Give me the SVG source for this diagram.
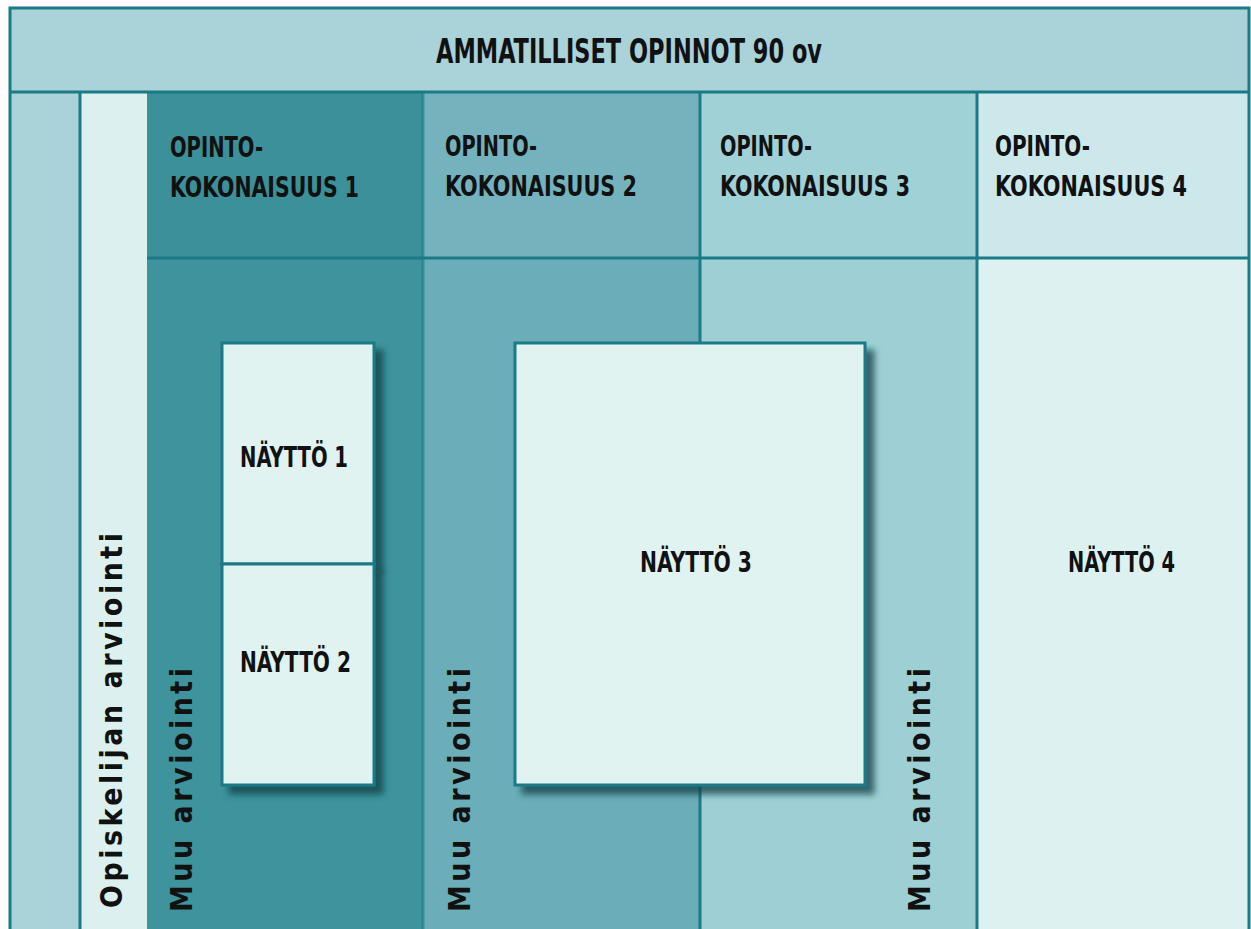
<svg xmlns="http://www.w3.org/2000/svg" width="1251" height="929" viewBox="0 0 1251 929">
<style>
.lbl{font-family:"Liberation Sans Narrow","DejaVu Sans Condensed","Liberation Sans",sans-serif;font-weight:bold;fill:#111;}
.hdr{font-size:34px;}
.col{font-size:28px;}
.vt{font-size:30px;}
.ln{stroke:#1a7a86;stroke-width:3;fill:none;}
.box{fill:#e0f3f1;stroke:#1a7a86;stroke-width:3;}
</style>
<defs>
<filter id="sh" x="-10%" y="-10%" width="130%" height="130%">
<feDropShadow dx="8" dy="8" stdDeviation="3" flood-color="#0d3f47" flood-opacity="0.75"/>
</filter>
</defs>
<rect x="0" y="0" width="1251" height="929" fill="#ffffff"/>
<g id="header">
<rect x="10" y="8" width="1239" height="84" fill="#a9d2d9"/>
<text class="lbl hdr" x="436" y="63" textLength="386" lengthAdjust="spacingAndGlyphs">AMMATILLISET OPINNOT 90 ov</text>
</g>
<g id="left-strip">
<rect x="10" y="92" width="70" height="837" fill="#a9d2d9"/>
</g>
<g id="opiskelijan">
<rect x="80" y="92" width="67" height="837" fill="#dbf0ef"/>
<text class="lbl vt" transform="translate(122,908) rotate(-90)" textLength="375" lengthAdjust="spacing">Opiskelijan arviointi</text>
</g>
<g id="col1">
<rect x="147" y="92" width="276" height="166" fill="#3b909a"/>
<rect x="147" y="258" width="276" height="671" fill="#3e939c"/>
<text class="lbl col" x="170" y="157" textLength="93" lengthAdjust="spacingAndGlyphs">OPINTO-</text>
<text class="lbl col" x="170" y="197" textLength="189" lengthAdjust="spacingAndGlyphs">KOKONAISUUS 1</text>
<text class="lbl vt" transform="translate(192,912) rotate(-90)" textLength="244" lengthAdjust="spacing">Muu arviointi</text>
</g>
<g id="col2">
<rect x="423" y="92" width="277" height="166" fill="#74b3be"/>
<rect x="423" y="258" width="277" height="671" fill="#6badb8"/>
<text class="lbl col" x="445" y="156" textLength="92" lengthAdjust="spacingAndGlyphs">OPINTO-</text>
<text class="lbl col" x="445" y="196" textLength="192" lengthAdjust="spacingAndGlyphs">KOKONAISUUS 2</text>
<text class="lbl vt" transform="translate(470,912) rotate(-90)" textLength="244" lengthAdjust="spacing">Muu arviointi</text>
</g>
<g id="col3">
<rect x="700" y="92" width="277" height="166" fill="#a0d1d7"/>
<rect x="700" y="258" width="277" height="671" fill="#9dcfd5"/>
<text class="lbl col" x="720" y="156" textLength="92" lengthAdjust="spacingAndGlyphs">OPINTO-</text>
<text class="lbl col" x="720" y="196" textLength="190" lengthAdjust="spacingAndGlyphs">KOKONAISUUS 3</text>
<text class="lbl vt" transform="translate(930,912) rotate(-90)" textLength="244" lengthAdjust="spacing">Muu arviointi</text>
</g>
<g id="col4">
<rect x="977" y="92" width="272" height="166" fill="#cce8eb"/>
<rect x="977" y="258" width="272" height="671" fill="#ddf2f0"/>
<text class="lbl col" x="995" y="156" textLength="95" lengthAdjust="spacingAndGlyphs">OPINTO-</text>
<text class="lbl col" x="995" y="196" textLength="192" lengthAdjust="spacingAndGlyphs">KOKONAISUUS 4</text>
<text class="lbl col" x="1068" y="572" textLength="107" lengthAdjust="spacingAndGlyphs">NÄYTTÖ 4</text>
</g>
<g id="connectors">
<path class="ln" d="M10,929 V8 H1249 V929"/>
<path class="ln" d="M10,92 H1249"/>
<path class="ln" d="M80,92 V929"/>
<path class="ln" d="M147,258 H1249" stroke-width="2.5"/>
<path class="ln" d="M423,92 V929" stroke-width="1.5" opacity="0.6"/>
<path class="ln" d="M700,92 V929" stroke-width="2.5"/>
<path class="ln" d="M977,92 V929" stroke-width="2.5"/>
</g>
<g id="naytto1">
<rect class="box" x="222" y="343" width="152" height="221" filter="url(#sh)"/>
<text class="lbl col" x="240" y="467" textLength="108" lengthAdjust="spacingAndGlyphs">NÄYTTÖ 1</text>
</g>
<g id="naytto2">
<rect class="box" x="222" y="564" width="152" height="221" filter="url(#sh)"/>
<text class="lbl col" x="240" y="672" textLength="111" lengthAdjust="spacingAndGlyphs">NÄYTTÖ 2</text>
</g>
<g id="naytto3">
<rect class="box" x="515" y="343" width="350" height="442" filter="url(#sh)"/>
<text class="lbl col" x="640" y="572" textLength="112" lengthAdjust="spacingAndGlyphs">NÄYTTÖ 3</text>
</g>
</svg>
